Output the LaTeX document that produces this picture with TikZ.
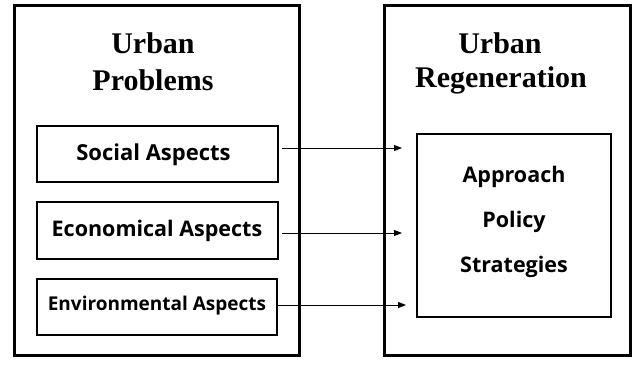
\documentclass[tikz,border=0pt]{standalone}
\usepackage{fontspec}
\setmainfont{Liberation Serif}
\newfontfamily\labfont{Open Sans}
\usetikzlibrary{arrows.meta}
\tikzset{
  outerbox/.style={draw, line width=3pt},
  innerbox/.style={draw, line width=1.3pt, inner sep=0pt},
  titletext/.style={font=\fontsize{30}{36}\selectfont\bfseries, align=center},
  labtext/.style={font=\labfont\fontsize{21.5}{26}\selectfont\bfseries},
  conn/.style={line width=0.9pt, -{Triangle[length=8pt,width=6pt]}}
}
\begin{document}
\begin{tikzpicture}[x=1pt,y=-1pt]
\useasboundingbox (0,0) rectangle (635,367);
% outer frames
\node[outerbox, minimum width=285pt, minimum height=350pt, inner sep=0pt] (left) at (156.5,180) {};
\node[outerbox, minimum width=246pt, minimum height=350pt, inner sep=0pt] (right) at (507,180) {};
% titles
\node[titletext] (t1a) at (153,43) {Urban};
\node[titletext] (t1b) at (153,80) {Problems};
\node[titletext] (t2a) at (500,43) {Urban};
\node[titletext] (t2b) at (501,80) {Regeneration};
% left boxes
\node[innerbox, minimum width=241pt, minimum height=56pt] (soc) at (157.5,154) {};
\node[labtext, font=\labfont\fontsize{22}{26}\selectfont\bfseries] (soct) at (153.5,155) {Social Aspects};
\node[innerbox, minimum width=241pt, minimum height=57pt] (eco) at (157.5,230.5) {};
\node[labtext] (ecot) at (157,231) {Economical Aspects};
\node[innerbox, minimum width=240pt, minimum height=56pt] (env) at (157,307) {};
\node[labtext, font=\labfont\fontsize{19}{23}\selectfont\bfseries] (envt) at (157,306) {Environmental Aspects};
% right box
\node[innerbox, minimum width=194pt, minimum height=183pt] (res) at (514,225.5) {};
\node[labtext] (r1) at (514,177) {Approach};
\node[labtext] (r2) at (514,222) {Policy};
\node[labtext] (r3) at (514,267) {Strategies};
% arrow targets
\coordinate (a1) at (402,148);
\coordinate (a2) at (402,233);
\coordinate (a3) at (406,305);
\draw[conn] (soc.east |- a1) ++(3,0) -- (a1);
\draw[conn] (eco.east |- a2) ++(3,0) -- (a2);
\draw[conn] (env.east |- a3) -- (a3);
\end{tikzpicture}
\end{document}
